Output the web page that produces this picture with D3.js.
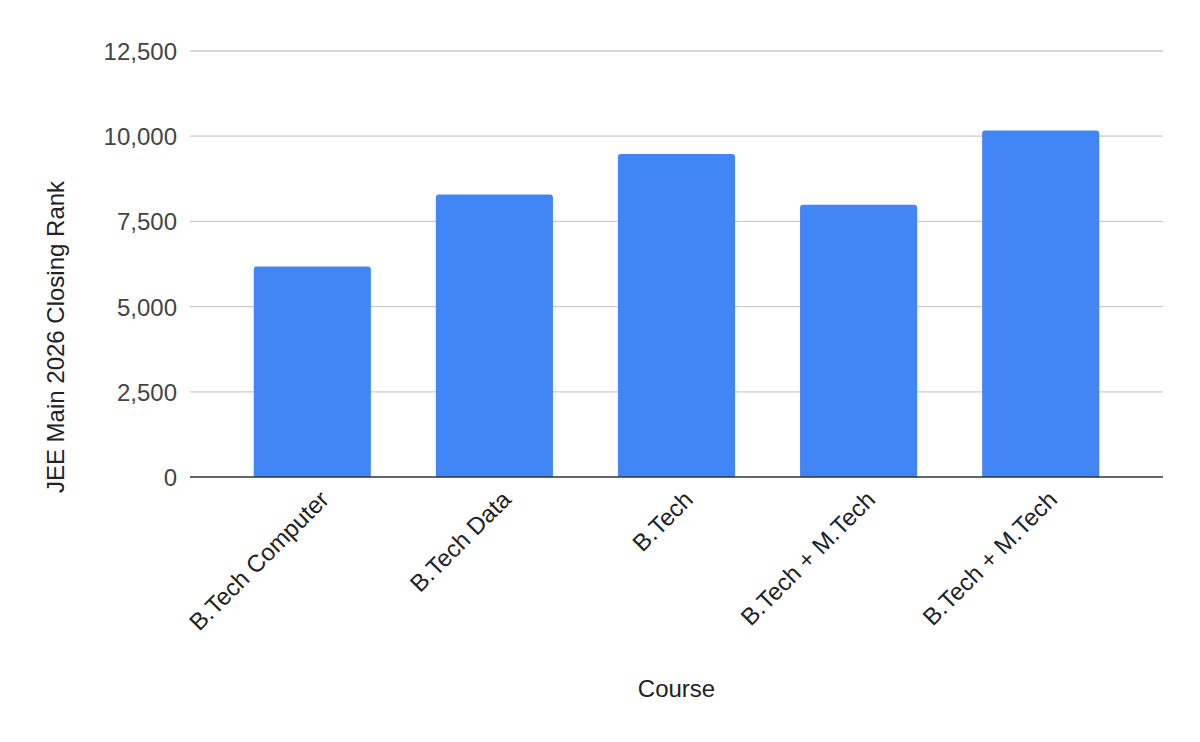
<!DOCTYPE html>
<html>
<head>
<meta charset="utf-8">
<script src="https://cdn.jsdelivr.net/npm/d3@7"></script>
<style>
  html, body { margin: 0; padding: 0; background: #fff; }
  svg text { font-family: Arial, "Liberation Sans", sans-serif; }
</style>
</head>
<body>
<svg id="chart" width="1200" height="742"></svg>
<script>
// JEE Main 2026 closing ranks by course
const courses = ['B.Tech Computer', 'B.Tech Data', 'B.Tech', 'B.Tech + M.Tech', 'B.Tech + M.Tech '];
const closingRank = [6180, 8290, 9480, 7990, 10170];
const yTicks = [0, 2500, 5000, 7500, 10000, 12500];

const svg = d3.select('#chart'),
  margin = { top: 51, right: 37, bottom: 265, left: 190 },
  W = +svg.attr('width') - margin.left - margin.right,
  H = +svg.attr('height') - margin.top - margin.bottom;

const g = svg.append('g')
  .attr('transform', `translate(${margin.left},${margin.top})`);

const x = d3.scaleBand()
  .domain(courses)
  .range([0, W])
  .paddingInner(0.357)
  .paddingOuter(0.35);

const y = d3.scaleLinear()
  .domain([0, 12500])
  .range([H, 0]);

// gridlines
g.append('g')
  .selectAll('line')
  .data(yTicks.filter(t => t > 0))
  .join('line')
  .attr('x1', 0)
  .attr('x2', W)
  .attr('y1', d => y(d))
  .attr('y2', d => y(d))
  .attr('stroke', '#cccccc')
  .attr('stroke-width', 1.3);

// y tick labels
const yAxis = g.append('g')
  .call(d3.axisLeft(y).tickValues(yTicks).tickFormat(d3.format(',')).tickSize(0).tickPadding(13));
yAxis.select('.domain').remove();
yAxis.selectAll('text')
  .attr('fill', '#444')
  .style('font-size', '24px')
  .attr('dy', '0.35em');

// bars with rounded tops
const r = 3;
const bars = courses.map((c, i) => ({ course: c, value: closingRank[i] }));
g.append('g')
  .selectAll('path')
  .data(bars)
  .join('path')
  .attr('fill', '#4285f4')
  .attr('d', d => {
    const x0 = x(d.course), x1 = x0 + x.bandwidth();
    const yt = y(d.value), yb = y(0);
    return `M${x0},${yb}V${yt + r}Q${x0},${yt} ${x0 + r},${yt}H${x1 - r}Q${x1},${yt} ${x1},${yt + r}V${yb}Z`;
  });

// baseline
g.append('line')
  .attr('x1', 0)
  .attr('x2', W)
  .attr('y1', y(0))
  .attr('y2', y(0))
  .attr('stroke', '#333')
  .attr('stroke-width', 1.5);

// x tick labels, rotated
g.append('g')
  .selectAll('text')
  .data(courses)
  .join('text')
  .attr('transform', d => `translate(${x(d) + x.bandwidth() / 2 + 18},${H + 24}) rotate(-45)`)
  .attr('text-anchor', 'end')
  .attr('fill', '#222')
  .style('font-size', '24px')
  .text(d => d.trim());

// axis titles
svg.append('text')
  .attr('x', margin.left + W / 2)
  .attr('y', 697)
  .attr('text-anchor', 'middle')
  .attr('fill', '#222')
  .style('font-size', '24px')
  .text('Course');

svg.append('text')
  .attr('transform', 'translate(64,337) rotate(-90)')
  .attr('text-anchor', 'middle')
  .attr('fill', '#222')
  .style('font-size', '24px')
  .text('JEE Main 2026 Closing Rank');
</script>
</body>
</html>
